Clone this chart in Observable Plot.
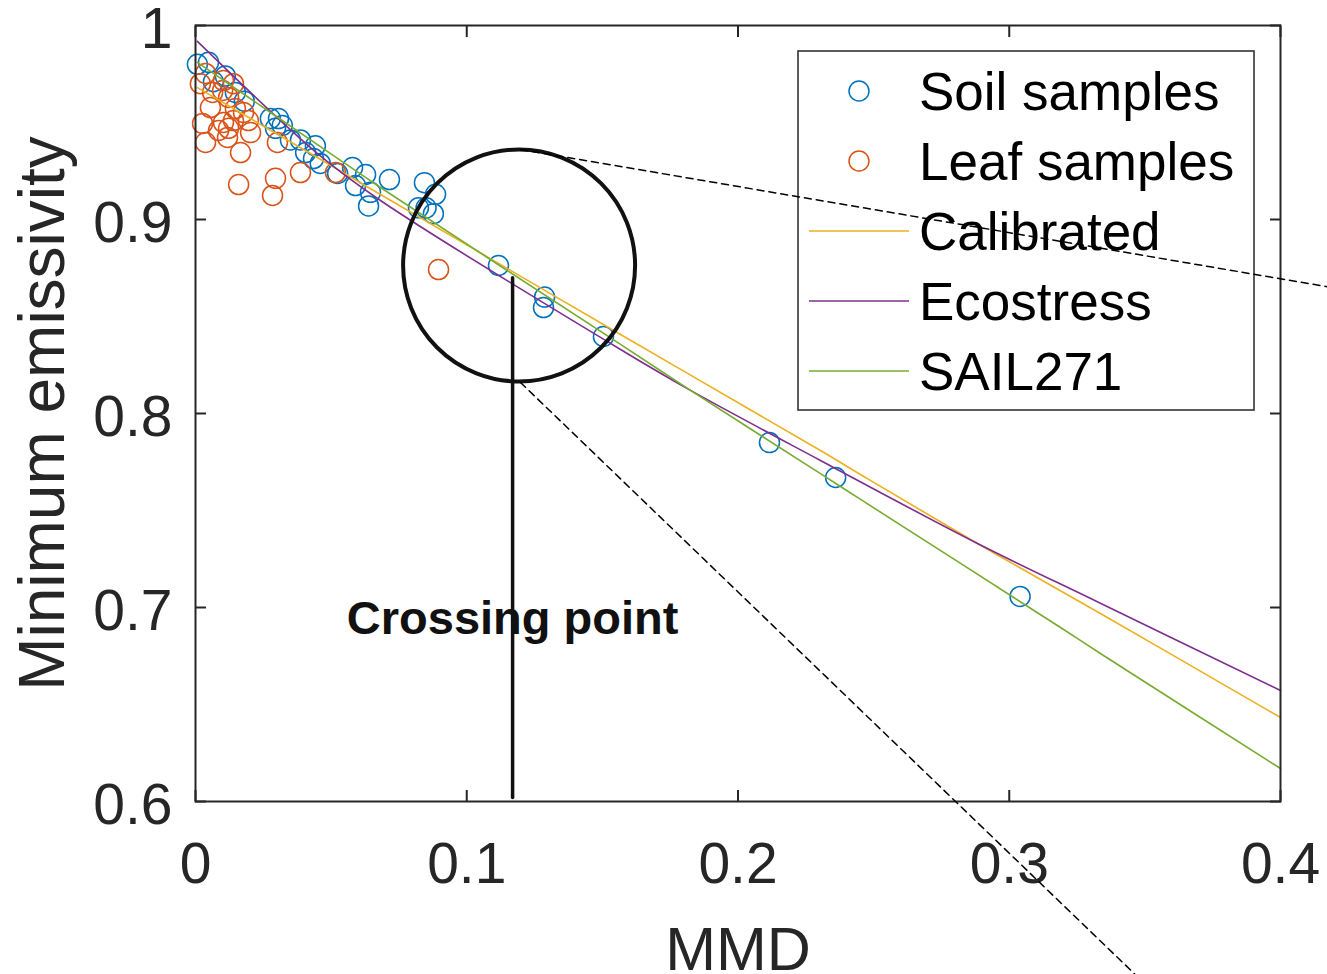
<!DOCTYPE html>
<html>
<head>
<meta charset="utf-8">
<script src="https://cdn.jsdelivr.net/npm/d3@7"></script>
<script src="https://cdn.jsdelivr.net/npm/@observablehq/plot@0.6"></script>
<style>
  html, body { margin: 0; padding: 0; background: #fff; }
  #chart { width: 1327px; height: 974px; }
</style>
</head>
<body>
<div id="chart"></div>
<script>
// ---- data (MMD, minimum emissivity) ----
const soilSamples = [
  [0.0007,0.980],[0.0048,0.981],[0.011,0.974],[0.0066,0.971],[0.0147,0.9655],[0.018,0.961],
  [0.0276,0.952],[0.0306,0.952],[0.032,0.9485],[0.0295,0.947],[0.035,0.941],[0.0387,0.941],
  [0.0406,0.9345],[0.0442,0.938],[0.0435,0.9314],[0.046,0.9289],[0.0524,0.9237],[0.0579,0.9268],
  [0.0627,0.9232],[0.059,0.9175],[0.0645,0.914],[0.0638,0.907],[0.0715,0.9206],[0.0844,0.919],
  [0.0822,0.906],[0.0885,0.913],[0.0877,0.903],[0.085,0.906],[0.1117,0.8763],[0.1287,0.860],
  [0.1283,0.8546],[0.1504,0.8397],[0.2116,0.785],[0.236,0.767],[0.304,0.7057]
];
const leafSamples = [
  [0.0037,0.9753],[0.0018,0.970],[0.0103,0.9716],[0.014,0.970],[0.0063,0.9655],[0.010,0.9665],
  [0.0122,0.9629],[0.0055,0.9577],[0.0147,0.9572],[0.0177,0.9552],[0.0026,0.9495],[0.0103,0.950],
  [0.014,0.951],[0.0195,0.951],[0.0085,0.9459],[0.0122,0.947],[0.0203,0.9448],[0.0037,0.9397],
  [0.0118,0.9423],[0.0166,0.9345],[0.0302,0.9397],[0.0387,0.9242],[0.0516,0.9242],[0.0295,0.9212],
  [0.0159,0.918],[0.0284,0.9124],[0.0896,0.8742]
];
const calibratedCurve = [
  [0.0007,0.968],[0.0424,0.934],[0.0682,0.9129],[0.1567,0.8407],[0.2304,0.7809],[0.2488,0.7655],
  [0.2883,0.733],[0.3336,0.6969],[0.4,0.6433]
];
const ecostressCurve = [
  [0.0007,0.9918],[0.045,0.934],[0.0682,0.9098],[0.1567,0.833],[0.1825,0.8119],[0.2304,0.7758],
  [0.2883,0.733],[0.3336,0.7022],[0.4,0.6572]
];
const sail271Curve = [
  [0.0007,0.981],[0.0498,0.934],[0.0682,0.9165],[0.1567,0.8356],[0.1825,0.8119],[0.2304,0.769],
  [0.2452,0.7557],[0.3189,0.6897],[0.3336,0.6763],[0.4,0.617]
];
// annotation
const circleCenter = [[0.1193, 0.8763]];
const crossingLine = [[0.1169, 0.870], [0.1169, 0.602]];
const crossingLabel = [{x: 0.1169, y: 0.6943, text: "Crossing point"}];
const dashUpper = [[0.1198, 0.9361], [0.42, 0.8647]];
const dashLower = [[0.1198, 0.816], [0.3564, 0.4974]];
// axes
const xTicks = [0, 0.1, 0.2, 0.3, 0.4];
const yTicks = [0.6, 0.7, 0.8, 0.9, 1];
const xLabel = "MMD";
const yLabel = "Minimum emissivity";
// legend
const legendLabels = ["Soil samples", "Leaf samples", "Calibrated", "Ecostress", "SAIL271"];
const legendKinds = ["circle", "circle", "line", "line", "line"];
const legendColors = ["#0072BD", "#D95319", "#EDB120", "#7E2F8E", "#77AC30"];

const axisColor = "#262626";
const FONT = "'Liberation Sans', Arial, Helvetica, sans-serif";

function legendMark(index, scales, values, dims) {
  const ns = "http://www.w3.org/2000/svg";
  const g = document.createElementNS(ns, "g");
  const right = dims.width - dims.marginRight - 26;
  const top = dims.marginTop + 26;
  const w = 456, h = 359;
  const left = right - w;
  const rect = document.createElementNS(ns, "rect");
  rect.setAttribute("x", left); rect.setAttribute("y", top);
  rect.setAttribute("width", w); rect.setAttribute("height", h);
  rect.setAttribute("fill", "none"); rect.setAttribute("stroke", "#333");
  rect.setAttribute("stroke-width", 1.6);
  g.appendChild(rect);
  legendLabels.forEach((lab, i) => {
    const cy = top + 40 + i * 70;
    if (legendKinds[i] === "circle") {
      const c = document.createElementNS(ns, "circle");
      c.setAttribute("cx", left + 61); c.setAttribute("cy", cy); c.setAttribute("r", 10);
      c.setAttribute("fill", "none"); c.setAttribute("stroke", legendColors[i]);
      c.setAttribute("stroke-width", 1.5);
      g.appendChild(c);
    } else {
      const l = document.createElementNS(ns, "line");
      l.setAttribute("x1", left + 11); l.setAttribute("x2", left + 111);
      l.setAttribute("y1", cy); l.setAttribute("y2", cy);
      l.setAttribute("stroke", legendColors[i]); l.setAttribute("stroke-width", 1.5);
      g.appendChild(l);
    }
    const t = document.createElementNS(ns, "text");
    t.setAttribute("x", left + 121); t.setAttribute("y", cy + 19);
    t.setAttribute("font-size", 53); t.setAttribute("fill", "#000");
    t.setAttribute("font-family", FONT);
    t.setAttribute("text-anchor", "start");
    t.textContent = lab;
    g.appendChild(t);
  });
  return g;
}

const fmt = d => String(d);

const chart = Plot.plot({
  width: 1327,
  height: 974,
  marginLeft: 195,
  marginRight: 47,
  marginTop: 25,
  marginBottom: 173,
  style: {fontFamily: FONT, background: "#fff", overflow: "hidden"},
  x: {domain: [0, 0.4]},
  y: {domain: [0.6, 1]},
  marks: [
    Plot.dot(soilSamples, {x: d => d[0], y: d => d[1], r: 10, stroke: legendColors[0], strokeWidth: 1.5, fill: "none"}),
    Plot.dot(leafSamples, {x: d => d[0], y: d => d[1], r: 10, stroke: legendColors[1], strokeWidth: 1.5, fill: "none"}),
    Plot.line(calibratedCurve, {x: d => d[0], y: d => d[1], stroke: legendColors[2], strokeWidth: 1.6, curve: "catmull-rom"}),
    Plot.line(ecostressCurve, {x: d => d[0], y: d => d[1], stroke: legendColors[3], strokeWidth: 1.6, curve: "catmull-rom"}),
    Plot.line(sail271Curve, {x: d => d[0], y: d => d[1], stroke: legendColors[4], strokeWidth: 1.6, curve: "catmull-rom"}),
    // axes: labels
    Plot.axisX(xTicks, {anchor: "bottom", tickSize: 0, tickPadding: 41, fontSize: 57, fill: axisColor, label: null, tickFormat: fmt}),
    Plot.axisY(yTicks, {anchor: "left", tickSize: 0, tickPadding: 23, fontSize: 57, fill: axisColor, label: null, tickFormat: fmt, dy: 4}),
    // axes: inward ticks on all four sides
    Plot.axisX(xTicks, {anchor: "bottom", tickSize: -11, fill: "none", stroke: axisColor, strokeWidth: 2, label: null}),
    Plot.axisX(xTicks, {anchor: "top", tickSize: -11, fill: "none", stroke: axisColor, strokeWidth: 2, label: null}),
    Plot.axisY(yTicks, {anchor: "left", tickSize: -11, fill: "none", stroke: axisColor, strokeWidth: 2, label: null}),
    Plot.axisY(yTicks, {anchor: "right", tickSize: -11, fill: "none", stroke: axisColor, strokeWidth: 2, label: null}),
    Plot.frame({stroke: axisColor, strokeWidth: 2}),
    // axis titles
    Plot.text([xLabel], {frameAnchor: "bottom", text: d => d, dy: 125, textAnchor: "middle", lineAnchor: "top", fontSize: 61, fill: axisColor}),
    Plot.text([yLabel], {frameAnchor: "left", text: d => d, rotate: -90, dx: -132, textAnchor: "middle", lineAnchor: "bottom", fontSize: 64, fill: axisColor}),
    // legend
    legendMark,
    // annotations
    Plot.dot(circleCenter, {x: d => d[0], y: d => d[1], r: 116, stroke: "#111", strokeWidth: 4, fill: "none"}),
    Plot.text(crossingLabel, {x: "x", y: "y", text: "text", fontSize: 47, fontWeight: "bold", fill: "#111"}),
    Plot.line(crossingLine, {x: d => d[0], y: d => d[1], stroke: "#111", strokeWidth: 3.5}),
    Plot.line(dashUpper, {x: d => d[0], y: d => d[1], stroke: "#000", strokeWidth: 1.5, strokeDasharray: "7,5"}),
    Plot.line(dashLower, {x: d => d[0], y: d => d[1], stroke: "#000", strokeWidth: 1.5, strokeDasharray: "7,5"})
  ]
});
document.getElementById("chart").appendChild(chart);
</script>
</body>
</html>
